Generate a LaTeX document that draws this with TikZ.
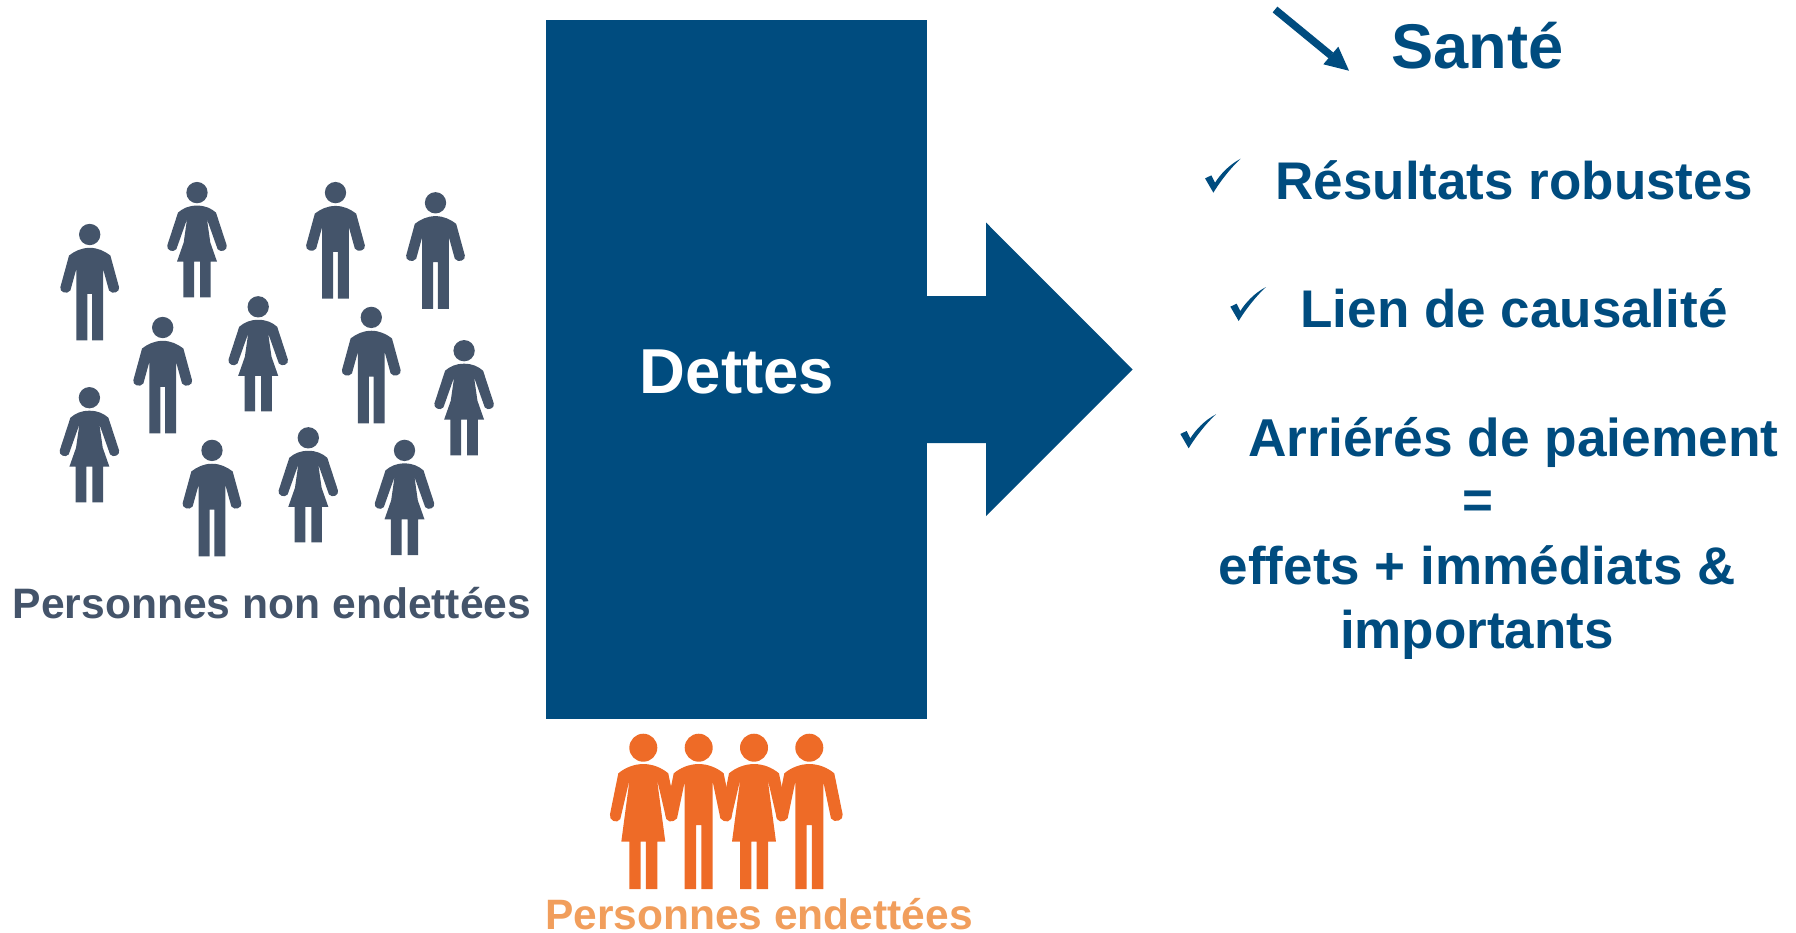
\documentclass[tikz,border=0pt]{standalone}
\usepackage{fontspec}
\setmainfont{Liberation Sans}
\definecolor{navy}{HTML}{004C7F}
\definecolor{slate}{HTML}{44546A}
\definecolor{orangefig}{HTML}{EE6B27}
\definecolor{orangetxt}{HTML}{F19E5C}
\tikzset{
  x=1pt,y=-1pt,
  lab/.style={font=\bfseries\fontsize{#1}{#1}\selectfont,anchor=base,inner sep=0pt,text=navy},
  pics/man/.style={code={\begin{scope}[x=0.3333pt,y=-0.3333pt]
    \fill (0,0) circle[radius=32];
    \fill (0,40) .. controls (25,40) and (45,50) .. (62,63) -- (88,158)
      .. controls (92,172) and (68,182) .. (58,168) -- (40,103) -- (40,318) -- (7,318) -- (7,178) -- (-7,178) -- (-7,318) -- (-40,318) -- (-40,103) -- (-58,168)
      .. controls (-68,182) and (-92,172) .. (-88,158) -- (-62,63) .. controls (-45,50) and (-25,40) .. (0,40) -- cycle;
  \end{scope}}},
  pics/woman/.style={code={\begin{scope}[x=0.3333pt,y=-0.3333pt]
    \fill (0,0) circle[radius=32];
    \fill (0,39) .. controls (25,39) and (42,47) .. (57,60) -- (89,158)
      .. controls (93,172) and (72,182) .. (62,170) -- (30,80) -- (40,150) -- (60,207) -- (41,207) -- (41,314) -- (9,314) -- (9,207) -- (-9,207) -- (-9,314) -- (-41,314) -- (-41,207) -- (-60,207) -- (-40,150) -- (-30,80) -- (-62,170)
      .. controls (-72,182) and (-93,172) .. (-89,158) -- (-57,60) .. controls (-42,47) and (-25,39) .. (0,39) -- cycle;
  \end{scope}}},
  pics/bigman/.style={code={\begin{scope}[x=0.3333pt,y=-0.3333pt]
    \fill (0,0) circle[radius=42];
    \fill (0,49) .. controls (28,49) and (55,60) .. (75,77) -- (100,200)
      .. controls (104,218) and (75,228) .. (65,212) -- (42,102) -- (42,424) -- (8,424) -- (8,232) -- (-8,232) -- (-8,424) -- (-42,424) -- (-42,102) -- (-65,212)
      .. controls (-75,228) and (-104,218) .. (-100,200) -- (-75,77) .. controls (-55,60) and (-28,49) .. (0,49) -- cycle;
  \end{scope}}},
  pics/bigwoman/.style={code={\begin{scope}[x=0.3333pt,y=-0.3333pt]
    \fill (0,0) circle[radius=42];
    \fill (0,49) .. controls (28,49) and (55,60) .. (75,77) -- (100,200)
      .. controls (104,218) and (79,230) .. (69,214) -- (41,94) -- (66,282) -- (42,282) -- (42,424) -- (8,424) -- (8,282) -- (-8,282) -- (-8,424) -- (-42,424) -- (-42,282) -- (-66,282) -- (-41,94) -- (-69,214)
      .. controls (-79,230) and (-104,218) .. (-100,200) -- (-75,77) .. controls (-55,60) and (-28,49) .. (0,49) -- cycle;
  \end{scope}}},
  pics/tick/.style={code={\begin{scope}[x=0.3333pt,y=-0.3333pt]
    \fill (0,0) .. controls (-35,18) and (-62,48) .. (-77,72) -- (-88,50) -- (-107,59) -- (-82,102) .. controls (-68,78) and (-35,32) .. (0,0) -- cycle;
  \end{scope}}},
}
\begin{document}
\begin{tikzpicture}
\useasboundingbox (0,0) rectangle (1796,932);
% central box and block arrow
\fill[navy] (546,20) rectangle (927.3,719);
\fill[navy] (927,296) -- (986,296) -- (986,222.5) -- (1132.7,369.5) -- (986,516) -- (986,443) -- (927,443) -- cycle;
\node[lab=63.5,text=white] (dettes) at (737,393) {Dettes};
% non indebted people
\foreach \p in {(89.7,234.5),(335.5,192.6),(435.5,202.8),(162.7,327.5),(371.3,317.4),(212,450.4)} \path[fill=slate] \p pic {man};
\foreach \p in {(197,192.6),(258.2,306.8),(464.1,350.7),(89.4,397.7),(308.3,437.8),(404.5,450.4)} \path[fill=slate] \p pic {woman};
\node[lab=42.6,text=slate] (nonend) at (272,618.8) {Personnes non endettées};
% indebted people
\path[fill=orangefig] (643.3,747.7) pic {bigwoman};
\path[fill=orangefig] (698.7,747.7) pic {bigman};
\path[fill=orangefig] (754,747.7) pic {bigwoman};
\path[fill=orangefig] (809.3,747.7) pic {bigman};
\node[lab=42.5,text=orangetxt] (end) at (759,929) {Personnes endettées};
% right column
\coordinate (arrstart) at (1275,9.5);
\coordinate (arrend) at (1331,55.5);
\draw[navy,line width=7.5pt] (arrstart) -- (arrend);
\fill[navy] (1349,70.7) -- (1338.3,46.7) -- (1323.3,64.3) -- cycle;
\node[lab=63.2] (sante) at (1477.7,68) {Santé};
\node[lab=53] (res) at (1514,199) {Résultats robustes};
\node[lab=53] (lien) at (1514,327.5) {Lien de causalité};
\node[lab=53.3] (arr) at (1513.4,456) {Arriérés de paiement};
\node[lab=53] (eq) at (1477.5,518.5) {=};
\node[lab=53] (eff) at (1477.3,584.5) {effets + immédiats \&};
\node[lab=53] (imp) at (1477,648.5) {importants};
\path[fill=navy] (1240.7,158.7) pic {tick};
\path[fill=navy] (1266,287) pic {tick};
\path[fill=navy] (1216,414.3) pic {tick};
\end{tikzpicture}
\end{document}
